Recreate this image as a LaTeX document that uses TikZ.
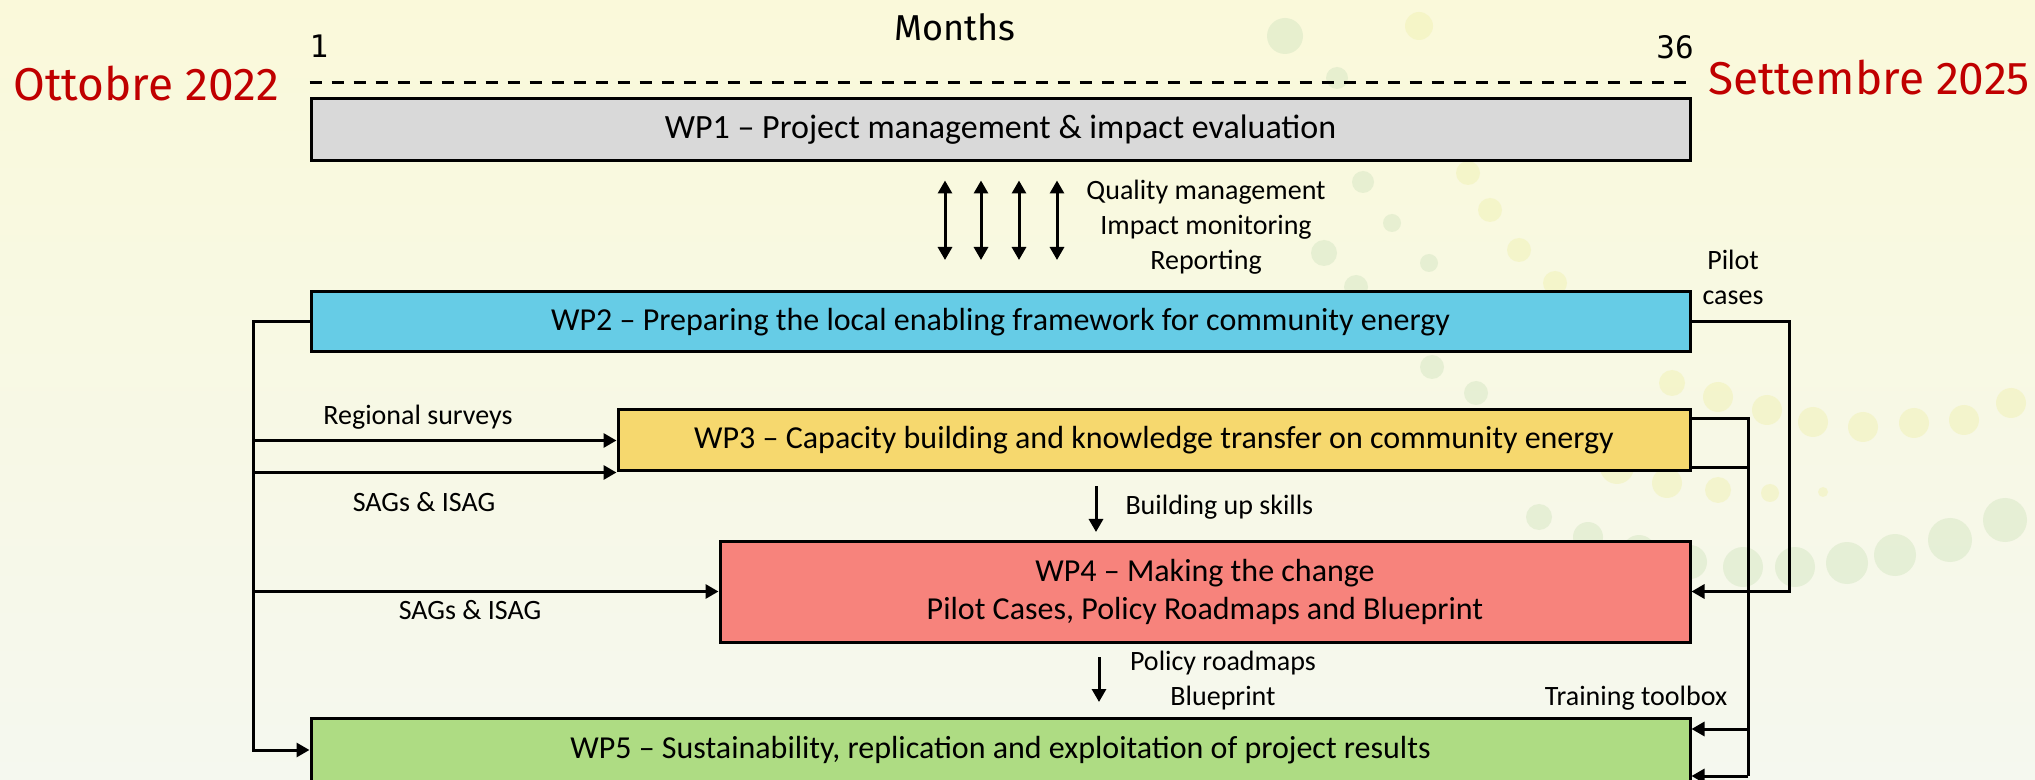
\documentclass[tikz,border=0pt]{standalone}
\usepackage{fontspec}
\setmainfont{Carlito}
\newfontfamily\datefont{Fira Sans}
\newfontfamily\numfont{DejaVu Sans Mono}
\usetikzlibrary{arrows.meta,calc}
\definecolor{wpgray}{HTML}{D9D9D9}
\definecolor{wpblue}{HTML}{66CCE6}
\definecolor{wpyellow}{HTML}{F6D86E}
\definecolor{wpred}{HTML}{F7837C}
\definecolor{wpgreen}{HTML}{AEDC83}
\definecolor{datered}{HTML}{C00000}
\definecolor{bgtop}{HTML}{FAF9DA}
\definecolor{bgbot}{HTML}{F5F8EF}
\definecolor{dotgreen}{HTML}{D2E5C0}
\definecolor{dotyellow}{HTML}{F1F2B4}

\begin{document}
\begin{tikzpicture}[x=0.5pt,y=-0.5pt,>={Triangle[length=6.5pt,width=7pt]},line width=1.5pt,
		wp/.style={draw,line width=1.5pt,inner sep=0pt,align=center,
			font=\fontsize{16}{19}\selectfont},
		lbl/.style={inner sep=0pt,align=center,font=\fontsize{14}{17.5}\selectfont},
		datelbl/.style={text=datered,inner sep=0pt,font=\datefont\fontsize{23}{27}\selectfont},
		monthlbl/.style={inner sep=0pt,font=\numfont\fontsize{15.5}{18}\selectfont}]
	\shade[top color=bgtop,bottom color=bgbot] (0,0) rectangle (2035,780);
	\useasboundingbox (0,0) rectangle (2035,780);
	% dots of the background
	\foreach \px/\py/\r in {1285/36/18,1337/78/11,1363/182/11,1392/223/9,1324/253/13,
			1429/263/9,1356/287/12,1432/367/12,1476/393/12,1539/517/13,1588/537/15,
			1639/552/17,1690/562/17,1743/567/20,1795/567/20,1847/563/21,1895/555/21,
			1950/540/22,2005/520/22}
		\fill[dotgreen,opacity=0.45] (\px,\py) circle[radius=\r];
	\foreach \px/\py/\r in {1419/26/14,1468/173/12,1490/210/12,1519/250/12,1555/283/12,
			1567/455/17,1617/467/17,1667/483/15,1718/490/13,1770/493/9,1823/492/5,
			1672/383/13,1718/397/15,1767/410/15,1813/422/15,1863/427/15,1914/423/15,
			1964/420/15,2011/403/15}
		\fill[dotyellow,opacity=0.5] (\px,\py) circle[radius=\r];

	\node[wp,fill=wpgray,minimum width=689.5pt,minimum height=31pt,
		font=\fontsize{17}{20}\selectfont] (wp1) at (1000.5,130)
		{WP1 – Project management \& impact evaluation};
	\node[wp,fill=wpblue,minimum width=689.5pt,minimum height=30pt] (wp2) at (1000.5,322)
		{WP2 – Preparing the local enabling framework for community energy};
	\node[wp,fill=wpyellow,minimum width=536pt,minimum height=30.5pt] (wp3) at (1154,440.5)
		{WP3 – Capacity building and knowledge transfer on community energy};
	\node[wp,fill=wpred,minimum width=485pt,minimum height=50.5pt] (wp4) at (1205,591.5)
		{WP4 – Making the change\\Pilot Cases, Policy Roadmaps and Blueprint};
	\node[wp,fill=wpgreen,minimum width=689.5pt,minimum height=32pt] (wp5) at (1000.5,750)
		{WP5 – Sustainability, replication and exploitation of project results};

	% timeline
	\node[inner sep=0pt,font=\datefont\fontsize{18}{20}\selectfont] (months) at (955,27) {Months};
	\node[monthlbl] (m1) at (319,46) {1};
	\node[monthlbl] (m36) at (1675,47) {36};
	\node[datelbl] (start) at (146,84) {Ottobre 2022};
	\node[datelbl] (end) at (1869,78) {Settembre 2025};
	\draw[line width=1.5pt,dash pattern=on 6pt off 5pt]
		([yshift=7.5pt]wp1.north west) -- ([yshift=7.5pt]wp1.north east);

	% WP1 <-> WP2
	\foreach \x in {945,981,1019,1057}
		\draw[<->,shorten <=9pt,shorten >=15.25pt] (\x,0 |- wp1.south) -- (\x,0 |- wp2.north);
	\node[lbl] (quality) at (1206,227) {Quality management\\Impact monitoring\\Reporting};

	% left side
	\coordinate (lbus) at (253,322);
	\draw[->] (wp2.west) -- (lbus) |- (wp5.west);
	\draw[->] (lbus |- wp3.west) -- (wp3.west);
	\draw[->] (lbus |- wp3.south west) -- (wp3.south west);
	\draw[->] (lbus |- wp4.west) -- (wp4.west);
	\node[lbl] (surveys) at (418,417) {Regional surveys};
	\node[lbl] (sag3) at (424,502) {SAGs \& ISAG};
	\node[lbl] (sag4) at (470,610) {SAGs \& ISAG};

	% right side
	\coordinate (rpilot) at (1789,322);
	\draw[->] (wp2.east) -- (rpilot) |- (wp4.east);
	\node[lbl] (pilot) at (1733,277) {Pilot\\cases};
	\coordinate (rtop) at (1748,419);
	\coordinate (rbot) at (1748,776);
	\draw (wp3.east |- rtop) -- (rtop) -- (rbot);
	\draw (wp3.east |- 0,468) -- (rtop |- 0,468);
	\draw[->] (rtop |- 0,729) -- (wp5.east |- 0,729);
	\draw[->] (rbot) -- (wp5.east |- rbot);
	\node[lbl] (toolbox) at (1636,698) {Training toolbox};

	% downwards
	\draw[->,shorten <=7pt,shorten >=3.75pt] (1096,0 |- wp3.south) -- (1096,0 |- wp4.north);
	\node[lbl,anchor=west] (skills) at (1124,507) {Building up skills};
	\draw[->,shorten <=6.75pt,shorten >=7.25pt] (1099,0 |- wp4.south) -- (1099,0 |- wp5.north);
	\node[lbl] (roadmaps) at (1223,681) {Policy roadmaps\\Blueprint};
\end{tikzpicture}
\end{document}
